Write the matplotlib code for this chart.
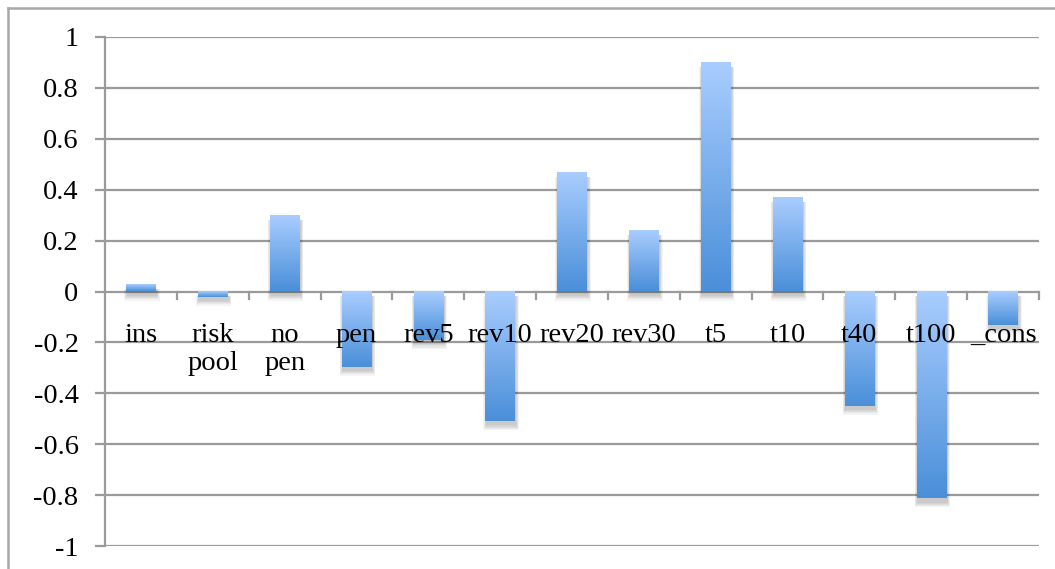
import matplotlib
matplotlib.use("Agg")
import matplotlib.pyplot as plt
import numpy as np
from matplotlib.colors import LinearSegmentedColormap
from matplotlib.patches import Rectangle
from matplotlib.lines import Line2D

# coefficient estimates
labels = ["ins", "risk\npool", "no\npen", "pen", "rev5", "rev10", "rev20",
          "rev30", "t5", "t10", "t40", "t100", "_cons"]
values = [0.024, -0.02, 0.295, -0.295, -0.19, -0.51, 0.464,
          0.236, 0.896, 0.369, -0.448, -0.813, -0.13]
yticks = [-1, -0.8, -0.6, -0.4, -0.2, 0, 0.2, 0.4, 0.6, 0.8, 1]

W, H = 1055, 569
fig = plt.figure(figsize=(W / 100, H / 100), dpi=100)
ax = fig.add_axes([105 / W, 1 - 546 / H, (1039 - 105) / W, (546 - 37) / H])

grid_c = "#9a9a9a"
font = dict(family="Liberation Serif", size=20.5, color="black")

# bar fill runs light at the top to darker at the bottom
grad = LinearSegmentedColormap.from_list("bar", ["#4a8fd9", "#a9cdff"])
ramp = np.linspace(0, 1, 256).reshape(-1, 1)

n = len(values)
bw = 0.41
px = 2 / (546 - 37)  # one pixel in data units (y)
pxx = n / (1039 - 105)  # one pixel in data units (x)
for i, v in enumerate(values):
    x0 = i + 0.5 - bw / 2
    lo, hi = min(0, v), max(0, v)
    # soft shadow, mostly below each bar
    for k in range(5):
        e = (k + 1) * 1.2
        ax.add_patch(Rectangle((x0 - 0.5 * e * pxx + pxx, lo - (3 + e) * px),
                               bw + e * pxx, hi - lo + (e - 1) * px,
                               facecolor="black", alpha=0.045,
                               edgecolor="none", zorder=2))
    ax.imshow(ramp, cmap=grad, origin="lower", aspect="auto",
              extent=(x0, x0 + bw, lo, hi), zorder=3, interpolation="bilinear")

ax.set_xlim(0, n)
ax.set_ylim(-1, 1)

for y in yticks:
    ax.axhline(y, color=grid_c, lw=1.6, zorder=1)

for s in ["top", "right", "bottom"]:
    ax.spines[s].set_visible(False)
ax.spines["left"].set_color(grid_c)
ax.spines["left"].set_linewidth(1.6)

ax.set_yticks(yticks)
ax.set_yticklabels([f"{t:g}" for t in yticks], fontdict=font)
ax.tick_params(axis="y", length=7, width=1.6, color=grid_c, pad=12)
ax.set_xticks([])

# category boundary ticks hanging from the zero line
for b in range(1, n + 1):
    ax.plot([b, b], [0, -0.028], color=grid_c, lw=1.6, zorder=1, clip_on=False)

for i, lab in enumerate(labels):
    for j, line in enumerate(lab.split("\n")):
        ax.annotate(line, xy=(i + 0.5, 0), xytext=(0, -36 - 20.5 * j),
                    textcoords="offset points", ha="center", va="baseline",
                    zorder=4, **font)

# chart frame: only the top and left edges fall inside the image
fx, fy = 7.5 / W, 1 - 7.5 / H
fig.lines.append(Line2D([fx, 1], [fy, fy], transform=fig.transFigure,
                        color="#a8a8a8", lw=1.8))
fig.lines.append(Line2D([fx, fx], [0, fy], transform=fig.transFigure,
                        color="#a8a8a8", lw=1.8))

fig.savefig("out.png", dpi=100, facecolor="white")
